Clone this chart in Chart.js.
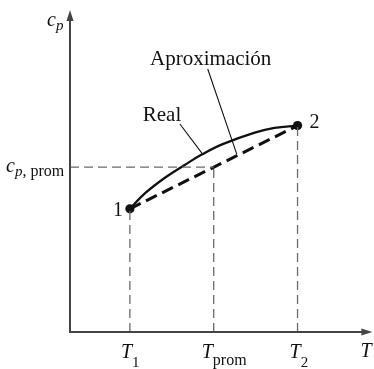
<!DOCTYPE html>
<html>
<head>
<meta charset="utf-8">
<script src="https://cdn.jsdelivr.net/npm/chart.js@4/dist/chart.umd.min.js"></script>
<style>
  html, body { margin: 0; padding: 0; background: #fff; }
  canvas { display: block; }
</style>
</head>
<body>
<canvas id="cp" width="374" height="369"></canvas>
<script>
// states 1 and 2, and the mean value
const T1 = 2.0, T2 = 7.6, Tprom = 4.8;
const cp1 = 3.85, cp2 = 6.45, cpProm = 5.15;

// real cp(T) curve between the two states
const realT  = [2.0, 2.5, 3.17, 3.83, 4.43, 5.1, 6.17, 6.83, 7.6];
const realCp = [3.85, 4.33, 4.82, 5.22, 5.56, 5.87, 6.23, 6.38, 6.45];

// linear approximation through the end points
const approxT  = [T1, T2];
const approxCp = [cp1, cp2];

const serif = '"Liberation Serif", "DejaVu Serif", serif';
const ink = '#111';
const axisColor = '#444';
const guideColor = '#6a6a6a';

const pts = (xs, ys) => xs.map((x, i) => ({ x, y: ys[i] }));

const guide = data => ({
  data, borderColor: guideColor, borderWidth: 1.3, borderDash: [9, 5],
  pointRadius: 0, fill: false
});

// draws "main" with a lowered subscript, returns the end x
function subText(ctx, x, y, main, sub, mainFont, subFont, drop) {
  ctx.font = mainFont;
  ctx.fillText(main, x, y);
  x += ctx.measureText(main).width;
  ctx.font = subFont;
  ctx.fillText(sub, x, y + drop);
  return x + ctx.measureText(sub).width;
}

const overlay = {
  id: 'overlay',
  afterDatasetsDraw(chart) {
    const { ctx, chartArea: a, scales: { x, y } } = chart;
    ctx.save();
    ctx.textBaseline = 'alphabetic';

    // axes with arrow heads
    ctx.strokeStyle = axisColor;
    ctx.fillStyle = axisColor;
    ctx.lineWidth = 2;
    ctx.beginPath();
    ctx.moveTo(a.left, a.top + 6);
    ctx.lineTo(a.left, a.bottom);
    ctx.lineTo(a.right - 4, a.bottom);
    ctx.stroke();
    ctx.beginPath();
    ctx.moveTo(a.left, a.top - 2);
    ctx.lineTo(a.left - 3.5, a.top + 9);
    ctx.lineTo(a.left + 3.5, a.top + 9);
    ctx.closePath();
    ctx.fill();
    ctx.beginPath();
    ctx.moveTo(a.right + 3, a.bottom);
    ctx.lineTo(a.right - 8, a.bottom - 3.5);
    ctx.lineTo(a.right - 8, a.bottom + 3.5);
    ctx.closePath();
    ctx.fill();

    // leader lines
    ctx.strokeStyle = ink;
    ctx.lineWidth = 1.1;
    ctx.beginPath();
    ctx.moveTo(x.getPixelForValue(3.67), y.getPixelForValue(6.5));
    ctx.lineTo(x.getPixelForValue(4.43), y.getPixelForValue(5.56));
    ctx.moveTo(x.getPixelForValue(4.6), y.getPixelForValue(8.22));
    ctx.lineTo(x.getPixelForValue(5.57), y.getPixelForValue(5.56));
    ctx.stroke();

    ctx.fillStyle = ink;
    const big = '21px ' + serif;
    const num = '20px ' + serif;
    const it = 'italic 20px ' + serif;
    const sub = '15px ' + serif;
    const itSub = 'italic 15px ' + serif;

    ctx.font = big;
    ctx.textAlign = 'left';
    ctx.fillText('Real', x.getPixelForValue(2.43), y.getPixelForValue(6.59));
    ctx.textAlign = 'center';
    ctx.fillText('Aproximación', x.getPixelForValue(4.7), y.getPixelForValue(8.34));
    ctx.textAlign = 'left';

    // state numbers next to the end points
    ctx.font = num;
    ctx.fillText('1', x.getPixelForValue(T1) - 17, y.getPixelForValue(cp1) + 7);
    ctx.fillText('2', x.getPixelForValue(T2) + 12, y.getPixelForValue(cp2) + 2);

    // temperature labels under the axis
    const base = a.bottom + 26;
    subText(ctx, x.getPixelForValue(T1) - 9, base, 'T', '1', it, sub, 9);
    subText(ctx, x.getPixelForValue(Tprom) - 12, base, 'T', 'prom', it, '16px ' + serif, 7);
    subText(ctx, x.getPixelForValue(T2) - 8, base, 'T', '2', it, sub, 9);
    ctx.font = it;
    ctx.fillText('T', a.right - 9, a.bottom + 25);

    // cp labels on the vertical axis
    subText(ctx, a.left - 23, a.top + 14, 'c', 'p', it, itSub, 4);
    const cy = y.getPixelForValue(cpProm) + 5;
    const cx = subText(ctx, 6, cy, 'c', 'p', it, itSub, 4);
    ctx.font = '16px ' + serif;
    ctx.fillText(', prom', cx, cy + 4);

    ctx.restore();
  }
};

new Chart(document.getElementById('cp'), {
  type: 'line',
  data: {
    datasets: [
      guide([{ x: T1, y: 0 }, { x: T1, y: cp1 }]),
      guide([{ x: Tprom, y: 0 }, { x: Tprom, y: cpProm }]),
      guide([{ x: T2, y: 0 }, { x: T2, y: cp2 }]),
      guide([{ x: 0, y: cpProm }, { x: Tprom, y: cpProm }]),
      {
        data: pts(approxT, approxCp),
        borderColor: ink, borderWidth: 3, borderDash: [12, 6],
        pointRadius: 0, fill: false
      },
      {
        data: pts(realT, realCp),
        borderColor: ink, borderWidth: 2.3, tension: 0.4,
        pointRadius: 0, fill: false
      },
      {
        data: pts(approxT, approxCp),
        showLine: false, pointRadius: 4.6,
        pointBackgroundColor: ink, pointBorderColor: ink, pointBorderWidth: 0
      }
    ]
  },
  options: {
    responsive: false,
    animation: false,
    events: [],
    layout: { padding: { left: 70, right: 4, top: 12, bottom: 37 } },
    scales: {
      x: { type: 'linear', min: 0, max: 10, display: false },
      y: { type: 'linear', min: 0, max: 10, display: false }
    },
    plugins: { legend: { display: false }, tooltip: { enabled: false } }
  },
  plugins: [overlay]
});
</script>
</body>
</html>
